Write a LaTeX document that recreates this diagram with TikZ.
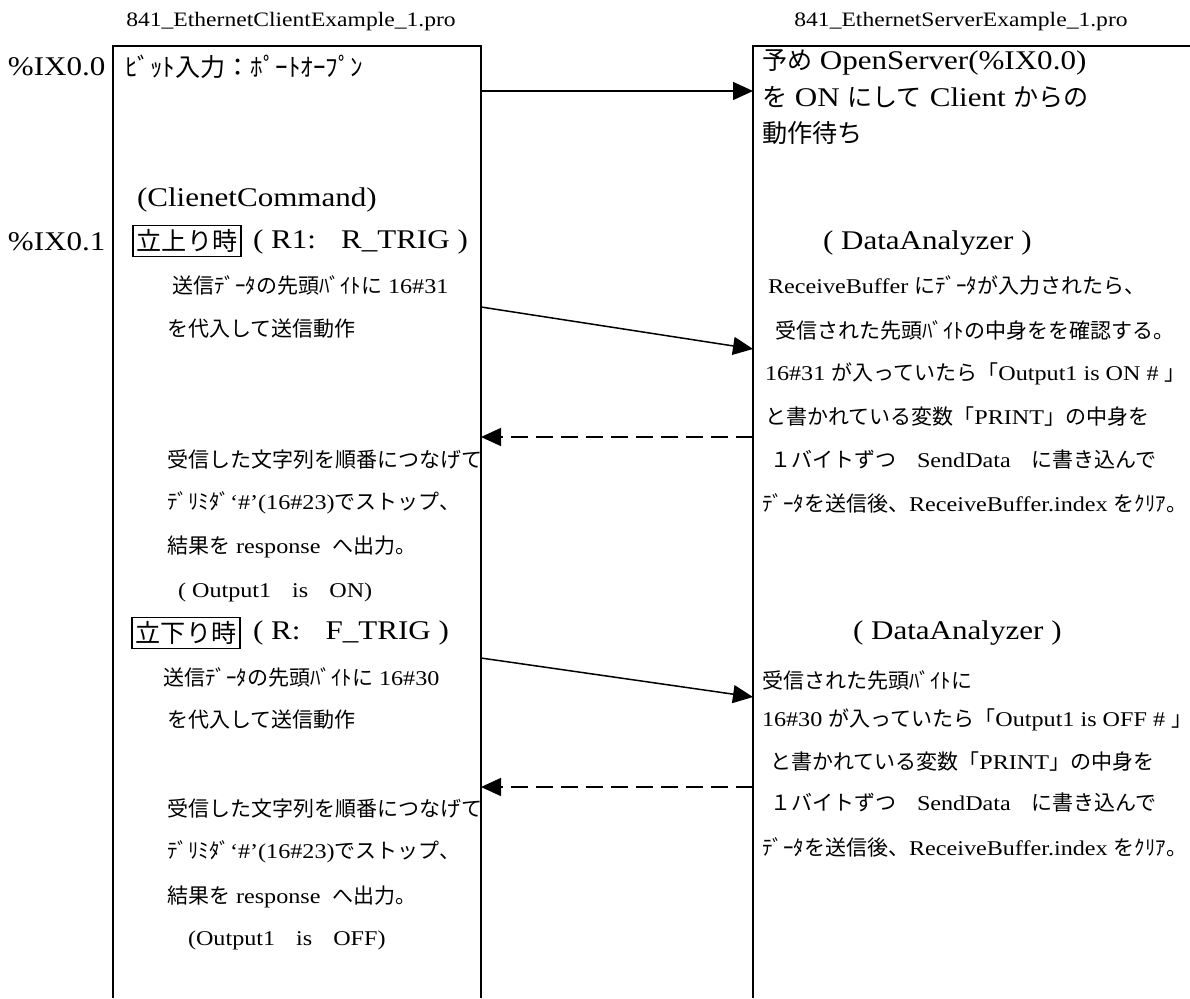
\documentclass[tikz,border=0pt]{standalone}
\usepackage{fontspec}
\setmainfont{Liberation Serif}[FakeStretch=1.15]
\newfontfamily\jpS{Noto Sans CJK JP}[Scale=1.0]
\newfontfamily\jpL{Noto Sans CJK JP}[Scale=0.93]
\let\jp\jpS
\usetikzlibrary{arrows.meta}
\tikzset{
  every node/.style={inner sep=0pt, outer sep=0pt},
  title/.style={anchor=center, font=\fontsize{20.5}{20.5}\selectfont},
  big/.style={anchor=west, font=\fontsize{27}{27}\selectfont\let\jp\jpL},
  small/.style={anchor=west, font=\fontsize{21}{21}\selectfont\let\jp\jpS},
  frame/.style={line width=1.7pt},
  msg/.style={line width=1.5pt, -{Triangle[length=20pt,width=18pt]}},
  reply/.style={msg, dash pattern=on 17pt off 8pt},
  trig/.style={draw, line width=1.5pt, inner sep=4pt, anchor=center, font=\fontsize{27}{27}\selectfont\jpL}
}
\begin{document}
\begin{tikzpicture}[x=1pt,y=-1pt]
\useasboundingbox (0,0) rectangle (1190,998);
% titles
\node[title] (t1) at (291,22) {841\_EthernetClientExample\_1.pro};
\node[title] (t2) at (961,22) {841\_EthernetServerExample\_1.pro};
% frames
\coordinate (Lbl) at (113,998); \coordinate (Ltl) at (113,46);
\coordinate (Ltr) at (481,46); \coordinate (Lbr) at (481,998);
\coordinate (Rbl) at (753,998); \coordinate (Rtl) at (753,46);
\coordinate (Rtr) at (1191,46);
\draw[frame] (Lbl) -- (Ltl) -- (Ltr) -- (Lbr);
\draw[frame] (Rbl) -- (Rtl) -- (Rtr);
% left column
\node[big] (ix00) at (8,67) {\%IX0.0};
\node[big] (bitin) at (125,67) {\jp ﾋﾞｯﾄ入力：ﾎﾟｰﾄｵｰﾌﾟﾝ};
\node[big] (cmd) at (137,200) {(ClienetCommand)};
\node[big] (ix01) at (8,242) {\%IX0.1};
\node[trig] (rise) at (187,241) {立上り時};
\node[big] (rtrig) at (253,242) {( R1:{\jp　}R\_TRIG )};
\node[small] (l1) at (172,285) {{\jp 送信ﾃﾞｰﾀの先頭ﾊﾞｲﾄに} 16\#31};
\node[small] (l2) at (167,329) {\jp を代入して送信動作};
\node[small] (l3) at (167,460) {\jp 受信した文字列を順番につなげて};
\node[small] (l4) at (167,503) {{\jp ﾃﾞﾘﾐﾀﾞ}`\#'(16\#23){\jp でストップ、}};
\node[small] (l5) at (167,547) {{\jp 結果を} response\ \ {\jp へ出力。}};
\node[small] (l6) at (178,592) {( Output1{\jp　}is{\jp　}ON)};
\node[trig] (fall) at (186,633) {立下り時};
\node[big] (ftrig) at (253,633) {( R:{\jp　}F\_TRIG )};
\node[small] (l7) at (163,677) {{\jp 送信ﾃﾞｰﾀの先頭ﾊﾞｲﾄに} 16\#30};
\node[small] (l8) at (167,720) {\jp を代入して送信動作};
\node[small] (l9) at (167,808) {\jp 受信した文字列を順番につなげて};
\node[small] (l10) at (167,852) {{\jp ﾃﾞﾘﾐﾀﾞ}`\#'(16\#23){\jp でストップ、}};
\node[small] (l11) at (167,897) {{\jp 結果を} response\ \ {\jp へ出力。}};
\node[small] (l12) at (188,940) {(Output1{\jp　}is{\jp　}OFF)};
% right column
\node[big] (r1) at (762,62) {{\jp 予め} OpenServer(\%IX0.0)};
\node[big] (r2) at (762,97) {{\jp を} ON {\jp にして} Client {\jp からの}};
\node[big] (r3) at (762,133) {\jp 動作待ち};
\node[big] (da1) at (823,243) {( DataAnalyzer )};
\node[small] (r4) at (768,285) {ReceiveBuffer {\jp にﾃﾞｰﾀが入力されたら、}};
\node[small] (r5) at (775,330) {\jp 受信された先頭ﾊﾞｲﾄの中身をを確認する。};
\node[small] (r6) at (765,374) {16\#31 {\jp が入っていたら「}Output1 is ON \# {\jp 」}};
\node[small] (r7) at (765,417) {{\jp と書かれている変数「}PRINT{\jp 」の中身を}};
\node[small] (r8) at (770,460) {{\jp １バイトずつ　}SendData{\jp 　に書き込んで}};
\node[small] (r9) at (762,503) {{\jp ﾃﾞｰﾀを送信後、}ReceiveBuffer.index {\jp をｸﾘｱ。}};
\node[big] (da2) at (853,633) {( DataAnalyzer )};
\node[small] (r10) at (762,680) {\jp 受信された先頭ﾊﾞｲﾄに};
\node[small] (r11) at (762,720) {16\#30 {\jp が入っていたら「}Output1 is OFF \# {\jp 」}};
\node[small] (r12) at (770,762) {{\jp と書かれている変数「}PRINT{\jp 」の中身を}};
\node[small] (r13) at (770,803) {{\jp １バイトずつ　}SendData{\jp 　に書き込んで}};
\node[small] (r14) at (762,847) {{\jp ﾃﾞｰﾀを送信後、}ReceiveBuffer.index {\jp をｸﾘｱ。}};
% messages
\coordinate (a1s) at (481,91);  \coordinate (a1e) at (753,91);
\coordinate (a2s) at (481,307); \coordinate (a2e) at (753,349);
\coordinate (a3s) at (753,437); \coordinate (a3e) at (481,437);
\coordinate (a4s) at (481,658); \coordinate (a4e) at (753,697);
\coordinate (a5s) at (753,787); \coordinate (a5e) at (481,787);
\draw[msg] (a1s) -- (a1e);
\draw[msg] (a2s) -- (a2e);
\draw[reply] (a3s) -- (a3e);
\draw[msg] (a4s) -- (a4e);
\draw[reply] (a5s) -- (a5e);
\end{tikzpicture}
\end{document}
